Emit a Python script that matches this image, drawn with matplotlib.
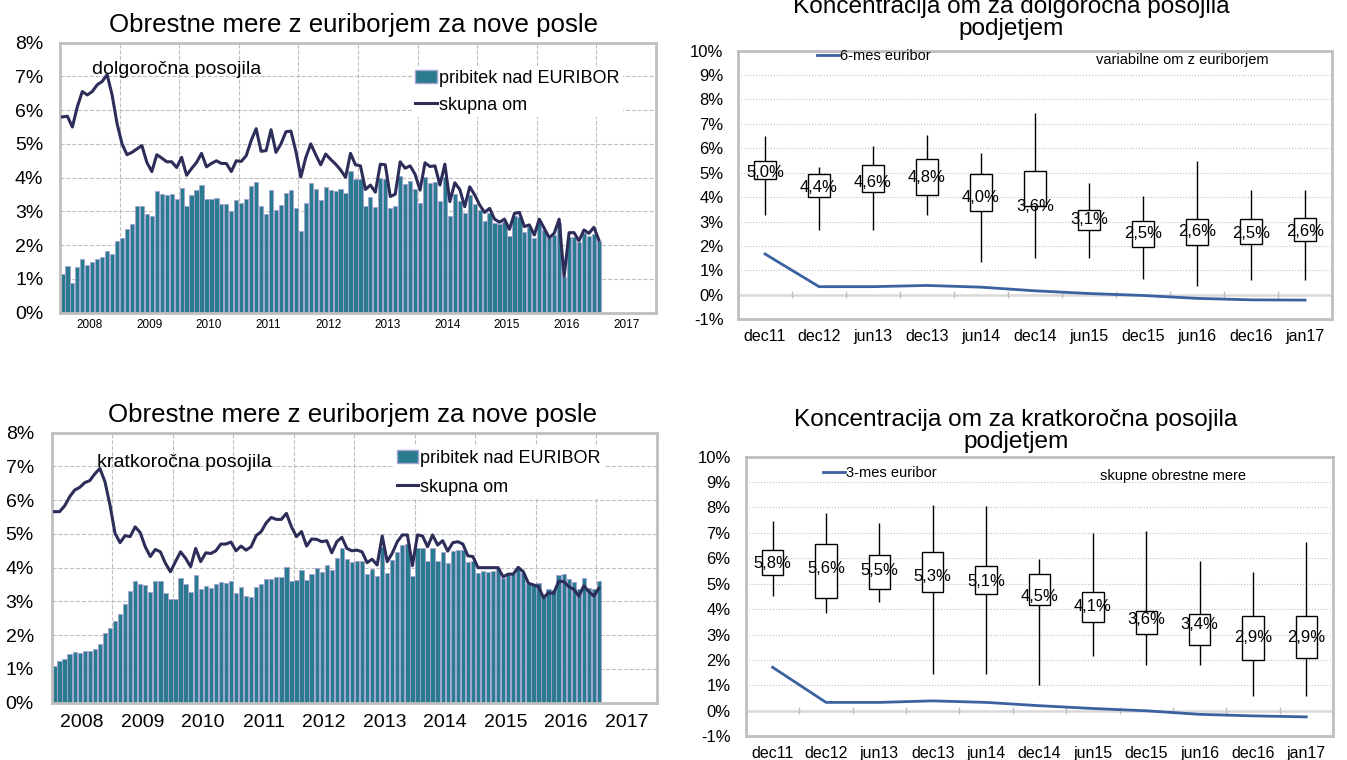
import matplotlib.pyplot as plt
from matplotlib.patches import Patch
from matplotlib.lines import Line2D
import numpy as np

plt.rcParams['font.family'] = ['Liberation Sans', 'DejaVu Sans']

# mesecni podatki jan 2008 - jan 2017 (v %)
dolg_pribitek = [
    1.15, 1.38, 0.88, 1.35, 1.6, 1.42, 1.5, 1.58, 1.66, 1.82, 1.73, 2.13,
    2.22, 2.47, 2.62, 3.15, 3.15, 2.92, 2.87, 3.6, 3.52, 3.48, 3.51, 3.38,
    3.68, 3.17, 3.48, 3.63, 3.78, 3.38, 3.36, 3.4, 3.22, 3.23, 3.02, 3.33,
    3.24, 3.38, 3.75, 3.86, 3.15, 2.93, 3.62, 3.04, 3.19, 3.54, 3.62, 3.1,
    2.42, 3.24, 3.84, 3.66, 3.34, 3.71, 3.63, 3.6, 3.65, 3.54, 4.21, 3.95,
    3.95, 3.17, 3.42, 3.14, 3.98, 3.95, 3.09, 3.16, 4.05, 3.81, 3.91, 3.66,
    3.24, 4.01, 3.85, 3.88, 3.31, 4.01, 2.86, 3.51, 3.32, 2.94, 3.49, 3.22,
    3.04, 2.73, 2.96, 2.65, 2.62, 2.7, 2.27, 2.86, 2.84, 2.38, 2.55, 2.2,
    2.67, 2.45, 2.2, 2.3, 2.67, 1.07, 2.25, 2.25, 2.1, 2.35, 2.28, 2.33,
    2.12]
dolg_skupna = [
    5.8, 5.82, 5.5, 6.1, 6.55, 6.45, 6.55, 6.75, 6.85, 7.05, 6.45, 5.6,
    5.0, 4.68, 4.75, 4.85, 4.95, 4.45, 4.18, 4.68, 4.58, 4.47, 4.47, 4.3,
    4.6, 4.07, 4.27, 4.45, 4.72, 4.32, 4.42, 4.5, 4.42, 4.42, 4.18, 4.5,
    4.48, 4.65, 5.1, 5.45, 4.78, 4.8, 5.42, 4.75, 5.0, 5.36, 5.38, 4.78,
    4.02, 4.6, 5.0, 4.68, 4.38, 4.7, 4.54, 4.4, 4.23, 4.01, 4.72, 4.38,
    4.35, 3.65, 3.78, 3.57, 4.4, 4.38, 3.44, 3.51, 4.47, 4.28, 4.35, 4.1,
    3.63, 4.44, 4.33, 4.35, 3.78, 4.4, 3.29, 3.85, 3.65, 3.14, 3.73, 3.49,
    3.19, 2.97, 3.09, 2.77, 2.68, 2.77, 2.47, 2.94, 2.97, 2.55, 2.6, 2.3,
    2.77, 2.5, 2.22, 2.35, 2.77, 1.07, 2.37, 2.37, 2.13, 2.45, 2.35, 2.53,
    2.15]
krat_pribitek = [
    1.1, 1.23, 1.28, 1.45, 1.5, 1.48, 1.52, 1.53, 1.6, 1.73, 2.07, 2.2,
    2.43, 2.62, 2.92, 3.3, 3.62, 3.52, 3.5, 3.28, 3.62, 3.62, 3.25, 3.08,
    3.08, 3.68, 3.52, 3.28, 3.77, 3.38, 3.46, 3.4, 3.52, 3.57, 3.54, 3.6,
    3.25, 3.43, 3.16, 3.12, 3.42, 3.52, 3.65, 3.67, 3.73, 3.72, 4.02, 3.62,
    3.63, 3.92, 3.63, 3.8, 4.0, 3.86, 4.08, 3.93, 4.28, 4.57, 4.25, 4.18,
    4.21, 4.21, 3.81, 3.95, 3.76, 4.6, 3.85, 4.23, 4.47, 4.67, 4.69, 3.76,
    4.57, 4.57, 4.2, 4.57, 4.21, 4.45, 4.15, 4.49, 4.52, 4.52, 4.16, 4.21,
    3.85, 3.9, 3.86, 3.91, 3.96, 3.68, 3.8, 3.8, 3.98, 3.85, 3.52, 3.51,
    3.54, 3.12, 3.37, 3.34, 3.78, 3.8, 3.65, 3.57, 3.36, 3.68, 3.41, 3.37,
    3.61]
krat_skupna = [
    5.66, 5.66, 5.83, 6.1, 6.3, 6.38, 6.52, 6.58, 6.78, 6.94, 6.55, 5.86,
    5.02, 4.74, 4.95, 4.92, 5.21, 5.04, 4.62, 4.33, 4.54, 4.47, 4.13, 3.88,
    4.18, 4.47, 4.28, 4.03, 4.57, 4.18, 4.44, 4.42, 4.5, 4.7, 4.7, 4.76,
    4.5, 4.64, 4.52, 4.62, 4.95, 5.07, 5.33, 5.49, 5.43, 5.43, 5.61, 5.21,
    4.92, 5.07, 4.64, 4.85, 4.84, 4.77, 4.8, 4.44, 4.77, 4.9, 4.57, 4.5,
    4.52, 4.47, 4.15, 4.25, 4.08, 4.94, 4.18, 4.43, 4.77, 4.97, 4.97, 4.06,
    4.97, 4.94, 4.62, 4.97, 4.67, 4.8, 4.49, 4.74, 4.77, 4.7, 4.35, 4.33,
    4.0, 4.0, 4.0, 4.0, 4.0, 3.73, 3.81, 3.81, 4.01, 3.88, 3.54, 3.49,
    3.44, 3.11, 3.26, 3.24, 3.59, 3.59, 3.44, 3.36, 3.16, 3.46, 3.29, 3.16,
    3.39]
leta = list(range(2008, 2018))

# koncentracija om (razpon, kvartili, mediana)
obdobja = ['dec11', 'dec12', 'jun13', 'dec13', 'jun14', 'dec14', 'jun15', 'dec15', 'jun16', 'dec16', 'jan17']
dolg_min = [3.27, 2.65, 2.65, 3.27, 1.33, 1.49, 1.49, 0.63, 0.36, 0.6, 0.6]
dolg_q1 = [4.73, 3.99, 4.22, 4.08, 3.43, 3.63, 2.65, 1.94, 2.04, 2.06, 2.21]
dolg_q3 = [5.46, 4.93, 5.3, 5.55, 4.95, 5.08, 3.47, 3.03, 3.09, 3.09, 3.16]
dolg_max = [6.5, 5.25, 6.09, 6.53, 5.82, 7.46, 4.56, 4.04, 5.5, 4.28, 4.28]
dolg_med = [5.0, 4.4, 4.6, 4.8, 4.0, 3.6, 3.1, 2.5, 2.6, 2.5, 2.6]
euribor6 = [1.67, 0.33, 0.33, 0.38, 0.31, 0.16, 0.05, -0.03, -0.15, -0.21, -0.22]

krat_min = [4.53, 3.83, 4.27, 1.43, 1.43, 1.01, 2.17, 1.82, 1.82, 0.58, 0.58]
krat_q1 = [5.33, 4.42, 4.79, 4.69, 4.58, 4.16, 3.48, 3.01, 2.59, 1.99, 2.09]
krat_q3 = [6.31, 6.55, 6.13, 6.26, 5.7, 5.37, 4.66, 3.92, 3.79, 3.74, 3.74]
krat_max = [7.47, 7.77, 7.4, 8.08, 8.06, 5.96, 7.01, 7.07, 5.89, 5.47, 6.63]
krat_med = [5.8, 5.6, 5.5, 5.3, 5.1, 4.5, 4.1, 3.6, 3.4, 2.9, 2.9]
euribor3 = [1.71, 0.33, 0.33, 0.39, 0.33, 0.2, 0.09, 0.0, -0.14, -0.2, -0.24]

teal = '#2B7B8F'
rob = '#A3A3D3'
temna = '#2D2D5A'
modra = '#3A62A0'
siva = '#BFBFBF'

meseci = 2008 + (np.arange(len(dolg_pribitek)) + 0.5) / 12

fig = plt.figure(figsize=(13.47, 7.6), dpi=100)


def obrestne(ax, pribitek, skupna, oznaka, oznaka_xy, leg_xy, leg_sp, xfs, xpad, ypad, tx):
    ax.bar(meseci, pribitek, width=0.85 / 12, color=teal, edgecolor=rob, linewidth=0.6, zorder=2)
    ax.plot(meseci, skupna, color=temna, lw=2.2, zorder=3)
    ax.set_xlim(2008, 2018)
    ax.set_ylim(0, 8)
    ax.set_yticks(range(9))
    ax.set_yticklabels([f'{v}%' for v in range(9)], fontsize=14)
    ax.set_xticks(np.array(leta) + 0.5)
    ax.set_xticklabels([str(l) for l in leta], fontsize=xfs)
    ax.set_xticks(range(2009, 2018), minor=True)
    ax.tick_params(which='both', length=0)
    ax.tick_params(axis='x', pad=xpad)
    ax.tick_params(axis='y', pad=ypad)
    ax.grid(True, which='minor', axis='x', ls='--', color=siva, lw=0.8)
    ax.grid(True, which='major', axis='y', ls='--', color=siva, lw=0.8)
    ax.set_axisbelow(True)
    for s in ax.spines.values():
        s.set_color(siva)
        s.set_linewidth(2)
    ax.set_title('Obrestne mere z euriborjem za nove posle', fontsize=18.6, pad=8, x=tx)
    ax.text(oznaka_xy[0], oznaka_xy[1], oznaka, transform=ax.transAxes, fontsize=14,
            ha='left', va='center', zorder=5)
    ax.legend(handles=[Patch(facecolor=teal, edgecolor=rob),
                       Line2D([], [], color=temna, lw=2.2)],
              labels=['pribitek nad EURIBOR', 'skupna om'],
              loc='upper left', bbox_to_anchor=leg_xy, fontsize=13, frameon=True,
              framealpha=1, facecolor='white', edgecolor='none', fancybox=False,
              handlelength=1.2, handletextpad=0.1, labelspacing=leg_sp,
              borderpad=0.2, borderaxespad=0)


def koncentracija(ax, vmin, q1, q3, vmax, med, eur, eur_ime, opis, opis_xy, leg_xy, naslov, pad, ypad):
    x = np.arange(len(obdobja))
    ax.axhline(0, color='#D9D9D9', lw=1.8, zorder=1)
    ax.vlines(np.arange(0.5, len(obdobja) - 1), -0.14, 0.14, color=siva, lw=1, zorder=1)
    ax.vlines(x, vmin, vmax, color='black', lw=1, zorder=2)
    ax.bar(x, np.array(q3) - np.array(q1), bottom=q1, width=0.4, color='white',
           edgecolor='black', linewidth=1, zorder=3)
    for i, m in enumerate(med):
        ax.text(i, m, f'{m:.1f}'.replace('.', ',') + '%', ha='center', va='center',
                fontsize=12, zorder=4)
    ax.plot(x, eur, color=modra, lw=2, zorder=3, label=eur_ime)
    ax.set_xlim(-0.5, len(obdobja) - 0.5)
    ax.set_ylim(-1, 10)
    ax.set_yticks(range(-1, 11))
    ax.set_yticklabels([f'{v}%' for v in range(-1, 11)], fontsize=12)
    ax.set_xticks(x)
    ax.set_xticklabels(obdobja, fontsize=11.5)
    ax.tick_params(length=0)
    ax.tick_params(axis='x', pad=7)
    ax.tick_params(axis='y', pad=ypad)
    ax.grid(True, axis='y', ls=':', color=siva, lw=0.8)
    ax.set_axisbelow(True)
    for s in ax.spines.values():
        s.set_color(siva)
        s.set_linewidth(2)
    ax.text(opis_xy[0], opis_xy[1], opis, transform=ax.transAxes, fontsize=10.5,
            ha='center', va='center')
    ax.legend(loc='upper left', bbox_to_anchor=leg_xy, fontsize=10.5, frameon=False,
              handlelength=1.5, handletextpad=0.1, borderpad=0, borderaxespad=0)
    ax.set_title(naslov, fontsize=17.6, pad=pad, x=0.46, linespacing=1.0)


ax1 = fig.add_axes([0.0445, 0.5886, 0.4425, 0.3553])
obrestne(ax1, dolg_pribitek, dolg_skupna, 'dolgoročna posojila', (0.054, 0.899),
         (0.59, 0.913), 0.55, 8.5, 4.6, 12, 0.493)

ax2 = fig.add_axes([0.0386, 0.0754, 0.4491, 0.3553])
obrestne(ax2, krat_pribitek, krat_skupna, 'kratkoročna posojila', (0.074, 0.891),
         (0.564, 0.95), 0.65, 14, 8, 13, 0.497)

ax3 = fig.add_axes([0.5479, 0.5801, 0.4410, 0.3532])
koncentracija(ax3, dolg_min, dolg_q1, dolg_q3, dolg_max, dolg_med, euribor6, '6-mes euribor',
              'variabilne om z euriborjem', (0.748, 0.965), (0.133, 1.005),
              'Koncentracija om za dolgoročna posojila\npodjetjem', 11, 10.5)

ax4 = fig.add_axes([0.5538, 0.0313, 0.4358, 0.368])
koncentracija(ax4, krat_min, krat_q1, krat_q3, krat_max, krat_med, euribor3, '3-mes euribor',
              'skupne obrestne mere', (0.727, 0.930), (0.131, 0.967),
              'Koncentracija om za kratkoročna posojila\npodjetjem', 6, 11)

plt.savefig('out.png', dpi=100)
